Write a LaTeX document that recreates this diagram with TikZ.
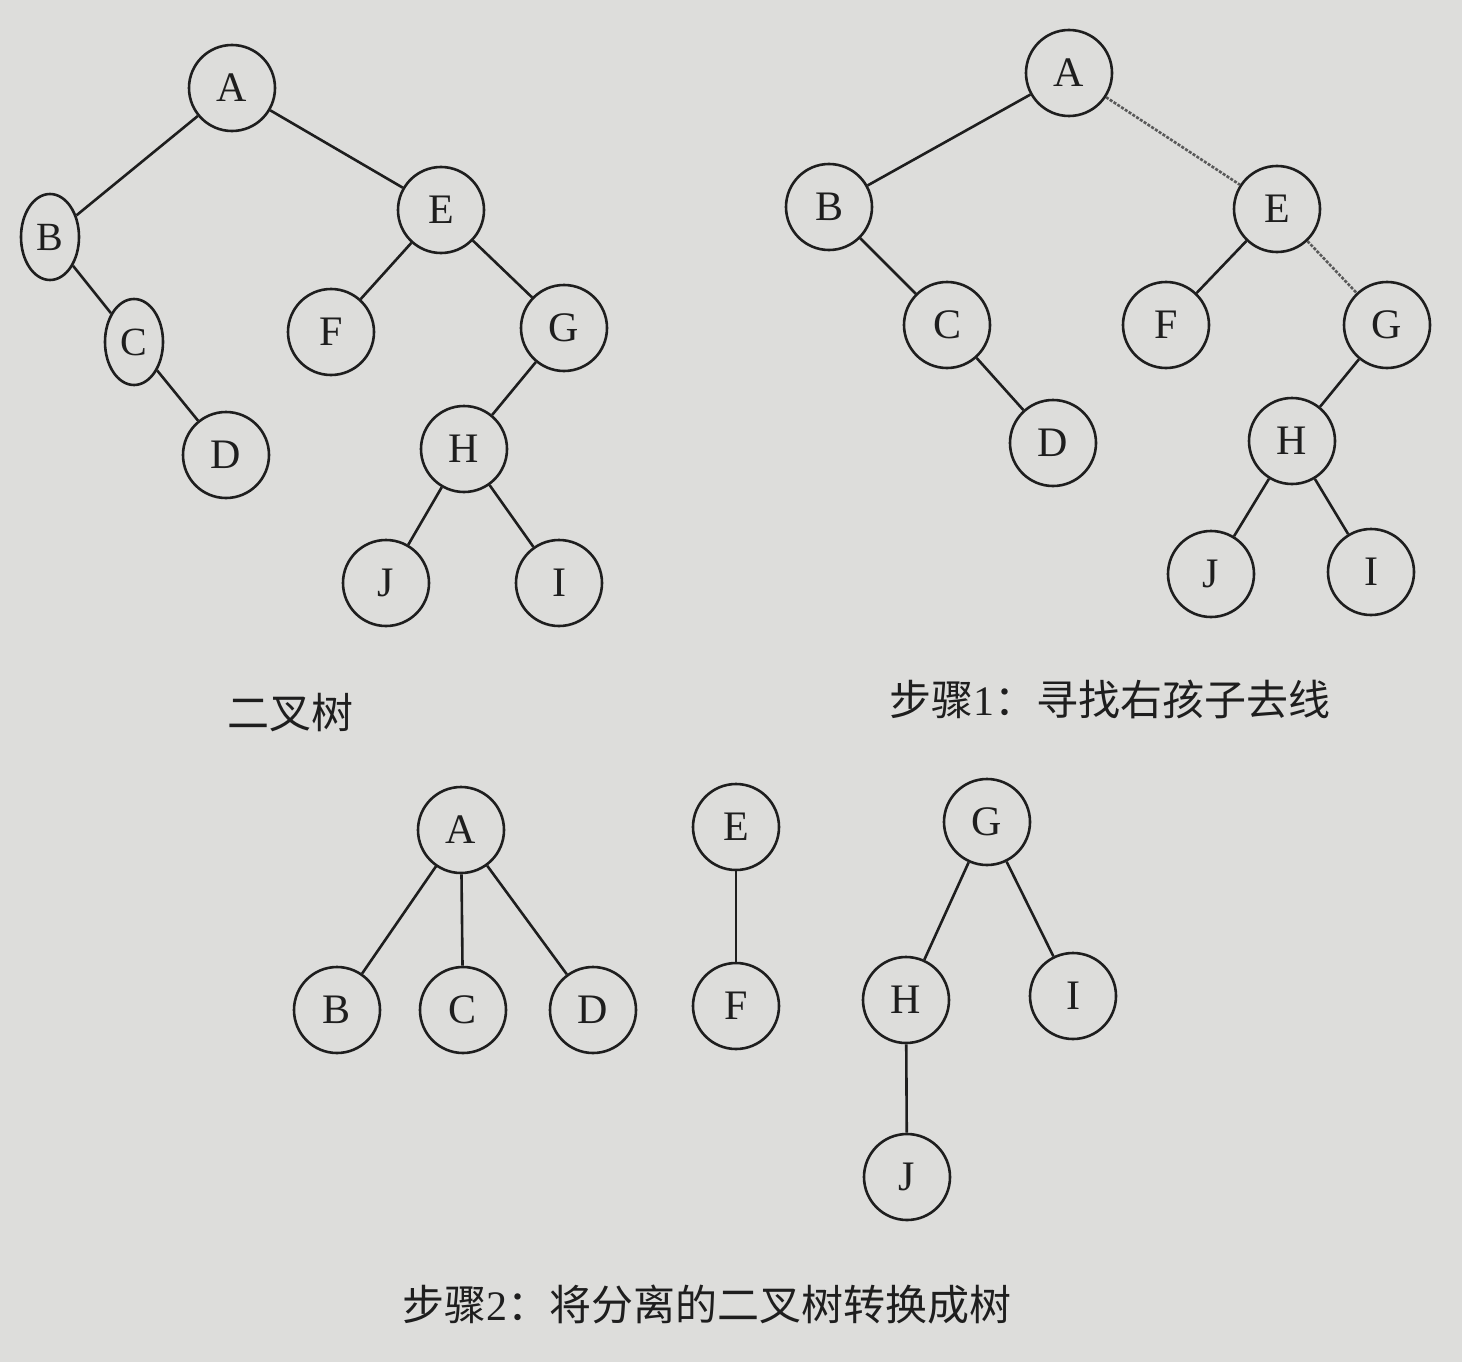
\documentclass[tikz,border=0pt]{standalone}
\usepackage{fontspec}
\setmainfont{Liberation Serif}
\newfontfamily\cjk{Noto Sans CJK SC}
\usetikzlibrary{shapes.geometric}
\definecolor{paper}{RGB}{221,221,219}
\definecolor{ink}{RGB}{30,30,30}
\tikzset{
  tn/.style={circle,draw=ink,line width=2.6pt,minimum size=86pt,inner sep=0pt,
    font=\fontsize{42}{50}\selectfont,text=ink},
  te/.style={ellipse,draw=ink,line width=2.6pt,minimum width=58pt,minimum height=86pt,inner sep=0pt,
    font=\fontsize{40}{48}\selectfont,text=ink},
  edge/.style={draw=ink,line width=2.6pt},
  cutline/.style={draw=gray!70!black,line width=2.6pt,dash pattern=on 3pt off 1.5pt},
  captext/.style={font=\cjk\fontsize{42}{50}\selectfont,text=ink,inner sep=0pt}
}
\begin{document}
\begin{tikzpicture}[x=1pt,y=-1pt]
\useasboundingbox (0,0) rectangle (1462,1362);
\fill[paper] (0,0) rectangle (1462,1362);

% Tree 1: binary tree
\node[tn] (a1) at (232,88) {A};
\node[te] (b1) at (50,237) {B};
\node[te] (c1) at (134,342) {C};
\node[tn] (d1) at (226,455) {D};
\node[tn] (e1) at (441,210) {E};
\node[tn] (f1) at (331,332) {F};
\node[tn] (g1) at (564,328) {G};
\node[tn] (h1) at (464,449) {H};
\node[tn] (j1) at (386,583) {J};
\node[tn] (i1) at (559,583) {I};
\draw[edge] (a1) -- (b1);
\draw[edge] (b1) -- (c1);
\draw[edge] (c1) -- (d1);
\draw[edge] (a1) -- (e1);
\draw[edge] (e1) -- (f1);
\draw[edge] (e1) -- (g1);
\draw[edge] (g1) -- (h1);
\draw[edge] (h1) -- (j1);
\draw[edge] (h1) -- (i1);
\node[captext] (cap1) at (290,713) {二叉树};

% Tree 2: step 1
\node[tn] (a2) at (1069,73) {A};
\node[tn] (b2) at (829,207) {B};
\node[tn] (c2) at (947,325) {C};
\node[tn] (d2) at (1053,443) {D};
\node[tn] (e2) at (1277,209) {E};
\node[tn] (f2) at (1166,325) {F};
\node[tn] (g2) at (1387,325) {G};
\node[tn] (h2) at (1292,441) {H};
\node[tn] (j2) at (1211,574) {J};
\node[tn] (i2) at (1371,572) {I};
\draw[edge] (a2) -- (b2);
\draw[edge] (b2) -- (c2);
\draw[edge] (c2) -- (d2);
\draw[cutline] (a2) -- (e2);
\draw[edge] (e2) -- (f2);
\draw[cutline] (e2) -- (g2);
\draw[edge] (g2) -- (h2);
\draw[edge] (h2) -- (j2);
\draw[edge] (h2) -- (i2);
\node[captext] (cap2) at (1110,699) {步骤{\rmfamily 1}：寻找右孩子去线};

% Tree 3: step 2
\node[tn] (a3) at (461,830) {A};
\node[tn] (b3) at (337,1010) {B};
\node[tn] (c3) at (463,1010) {C};
\node[tn] (d3) at (593,1010) {D};
\node[tn] (e3) at (736,827) {E};
\node[tn] (f3) at (736,1006) {F};
\node[tn] (g3) at (987,822) {G};
\node[tn] (h3) at (906,1000) {H};
\node[tn] (i3) at (1073,996) {I};
\node[tn] (j3) at (907,1177) {J};
\draw[edge] (a3) -- (b3);
\draw[edge] (a3) -- (c3);
\draw[edge] (a3) -- (d3);
\draw[edge] (e3) -- (f3);
\draw[edge] (g3) -- (h3);
\draw[edge] (g3) -- (i3);
\draw[edge] (h3) -- (j3);
\node[captext] (cap3) at (707,1305) {步骤{\rmfamily 2}：将分离的二叉树转换成树};
\end{tikzpicture}
\end{document}
